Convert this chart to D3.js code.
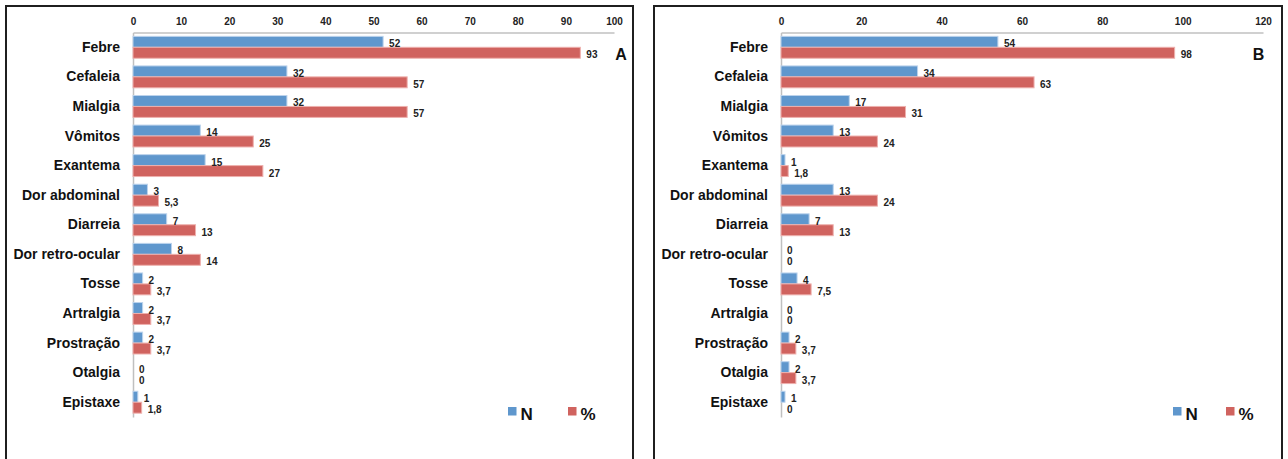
<!DOCTYPE html>
<html>
<head>
<meta charset="utf-8">
<script src="https://cdn.jsdelivr.net/npm/d3@7"></script>
<style>
  html, body { margin: 0; padding: 0; background: #ffffff; }
  svg { display: block; font-family: "Liberation Sans", Arial, sans-serif; }
</style>
</head>
<body>
<svg id="chart" width="1288" height="459"></svg>
<script>
// Symptoms, in display order (top to bottom)
const categories = [
  "Febre", "Cefaleia", "Mialgia", "Vômitos", "Exantema", "Dor abdominal",
  "Diarreia", "Dor retro-ocular", "Tosse", "Artralgia", "Prostração",
  "Otalgia", "Epistaxe"
];

// Panel A: counts and percentages
const countsA  = [52, 32, 32, 14, 15, 3, 7, 8, 2, 2, 2, 0, 1];
const percentA = [93, 57, 57, 25, 27, 5.3, 13, 14, 3.7, 3.7, 3.7, 0, 1.8];

// Panel B: counts and percentages
const countsB  = [54, 34, 17, 13, 1, 13, 7, 0, 4, 0, 2, 2, 1];
const percentB = [98, 63, 31, 24, 1.8, 24, 13, 0, 7.5, 0, 3.7, 3.7, 0];

// Axis tick labels
const ticksA = [0, 10, 20, 30, 40, 50, 60, 70, 80, 90, 100];
const ticksB = [0, 20, 40, 60, 80, 100, 120];

// Series names and panel letters
const seriesNames = ["N", "%"];
const panelLetters = ["A", "B"];

const colors = { "N": "#5f97cd", "%": "#d0635f" };
const strokes = { "N": "#bcd3ec", "%": "#eeb0ad" };

const fmt = v => String(v).replace(".", ",");

const svg = d3.select("#chart");

const panels = [
  { frameL: 6,   frameR: 633,  x0: 133, x1: 614,  ticks: ticksA, counts: countsA, pct: percentA,
    letter: panelLetters[0], letterX: 621, legendX: 508, legendGap: 60 },
  { frameL: 654, frameR: 1282, x0: 781, x1: 1263, ticks: ticksB, counts: countsB, pct: percentB,
    letter: panelLetters[1], letterX: 1258.5, legendX: 1173, legendGap: 53 }
];

const plotTop = 32.5, plotBottom = 417;

panels.forEach(p => {
  const g = svg.append("g");

  // outer frame (bottom edge runs past the canvas)
  g.append("rect")
    .attr("x", p.frameL).attr("y", 6)
    .attr("width", p.frameR - p.frameL).attr("height", 480)
    .attr("fill", "#fff").attr("stroke", "#1f1f1f").attr("stroke-width", 2);

  const x = d3.scaleLinear()
    .domain([0, p.ticks[p.ticks.length - 1]])
    .range([p.x0, p.x1]);

  const y = d3.scaleBand()
    .domain(categories)
    .range([plotTop, plotBottom])
    .paddingInner(0.26)
    .paddingOuter(0.13);

  const sub = d3.scaleBand()
    .domain(seriesNames)
    .range([0, y.bandwidth()]);

  // top value axis
  const xAxis = g.append("g")
    .attr("transform", `translate(0,${plotTop})`)
    .call(d3.axisTop(x).tickValues(p.ticks).tickSize(0).tickSizeOuter(0).tickPadding(8));
  xAxis.select(".domain").attr("stroke", "#c0c0c0").attr("stroke-width", 1.5);
  xAxis.selectAll("text")
    .attr("font-size", 10).attr("font-weight", "bold").attr("fill", "#222")
    .attr("font-family", "'Liberation Sans', Arial, sans-serif");

  // category axis
  const yAxis = g.append("g")
    .attr("transform", `translate(${p.x0},0)`)
    .call(d3.axisLeft(y).tickSize(0).tickSizeOuter(0).tickPadding(13));
  yAxis.select(".domain").attr("stroke", "#c0c0c0").attr("stroke-width", 1.5);
  yAxis.selectAll("text")
    .attr("font-size", 14).attr("font-weight", "bold").attr("fill", "#111")
    .attr("font-family", "'Liberation Sans', Arial, sans-serif");

  const rows = categories.map((c, i) => ({ cat: c, vals: [
    { s: "N", v: p.counts[i] },
    { s: "%", v: p.pct[i] }
  ]}));

  const rowG = g.selectAll(".row").data(rows).join("g")
    .attr("transform", d => `translate(0,${y(d.cat)})`);

  rowG.selectAll("rect").data(d => d.vals).join("rect")
    .attr("x", x(0))
    .attr("y", d => sub(d.s))
    .attr("width", d => x(d.v) - x(0))
    .attr("height", sub.bandwidth())
    .attr("fill", d => colors[d.s])
    .attr("stroke", d => d.v > 0 ? strokes[d.s] : "none")
    .attr("stroke-width", 1);

  rowG.selectAll("text.val").data(d => d.vals).join("text")
    .attr("class", "val")
    .attr("x", d => x(d.v) + 6)
    .attr("y", d => sub(d.s) + sub.bandwidth() / 2 + 2)
    .attr("dy", "0.35em")
    .attr("font-size", 10).attr("font-weight", "bold").attr("fill", "#222")
    .text(d => fmt(d.v));

  // panel letter
  g.append("text")
    .attr("x", p.letterX).attr("y", 54)
    .attr("dy", "0.35em").attr("text-anchor", "middle")
    .attr("font-size", 16).attr("font-weight", "bold").attr("fill", "#111")
    .text(p.letter);

  // legend
  const leg = g.selectAll(".leg").data(seriesNames).join("g")
    .attr("transform", (d, i) => `translate(${p.legendX + i * p.legendGap},407)`);
  leg.append("rect")
    .attr("width", 8.5).attr("height", 8.5)
    .attr("fill", d => colors[d]);
  leg.append("text")
    .attr("x", 12.5).attr("y", 12.5)
    .attr("font-size", 17).attr("font-weight", "bold").attr("fill", "#111")
    .text(d => d);
});
</script>
</body>
</html>
